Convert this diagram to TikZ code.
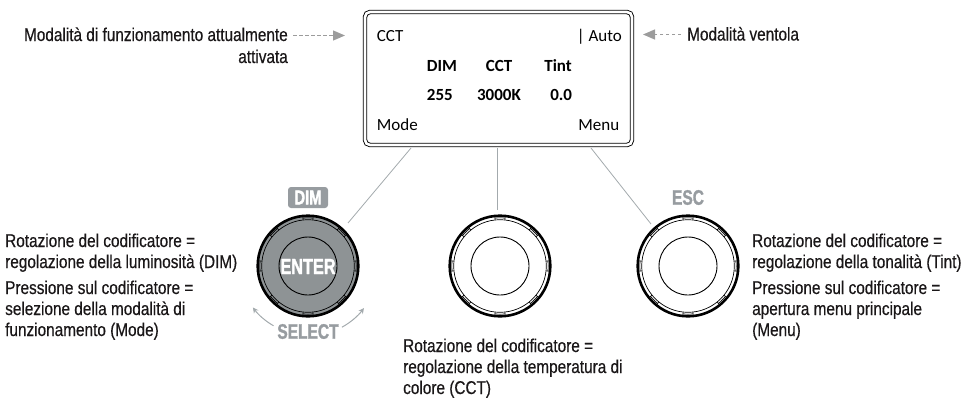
\documentclass[tikz,border=0pt]{standalone}
\usepackage{fontspec}
\setmainfont{Liberation Sans}[FakeStretch=0.83,FakeBold=0.5]
\newfontfamily\dispfont{Carlito}
\newfontfamily\condfont{Liberation Sans Bold}[FakeStretch=0.74,FakeBold=1.4]
\usetikzlibrary{arrows.meta,calc}
\definecolor{txtcol}{HTML}{1A1718}
\definecolor{arrgray}{HTML}{9C9C9C}
\definecolor{linegray}{HTML}{A3AAAD}
\definecolor{knobgray}{HTML}{8E9395}
\definecolor{badgegray}{HTML}{979CA0}
\newcommand\drawknob[2]{%
  \fill[#2] (#1) circle[radius=51];
  \draw[line width=2.6] (#1) circle[radius=50.3];
  \draw[line width=0.7] (#1) circle[radius=46.3];
  \foreach \a in {0,45,...,315} {
    \draw[line width=0.6] ($(#1)+({\a-6}:46.3)$) -- ($(#1)+({\a-6}:50)$);
    \draw[line width=0.6] ($(#1)+({\a+6}:46.3)$) -- ($(#1)+({\a+6}:50)$);
    \draw[line width=0.6] ($(#1)+({\a-6}:48.2)$) arc[start angle={\a-6}, end angle={\a+6}, radius=48.2];
  }
  \draw[line width=0.9] (#1) circle[radius=29];
}
\begin{document}
\begin{tikzpicture}[x=1pt,y=-1pt,
  lbl/.style={font=\fontsize{18.5}{21}\selectfont, text=txtcol, inner sep=0},
  disp/.style={font=\dispfont\fontsize{17}{20}\selectfont, inner sep=0},
  dispb/.style={font=\dispfont\bfseries\fontsize{17}{20}\selectfont, inner sep=0},
  conn/.style={draw=linegray, line width=0.8},
  dasharr/.style={draw=arrgray, line width=1.2, dash pattern=on 3.5pt off 2.5pt,
    -{Triangle[length=12pt,width=10pt,fill=arrgray]}},
  selarr/.style={draw=linegray, line width=1, -{Stealth[length=5.5pt,width=5.5pt]}},
  graylbl/.style={font=\condfont\fontsize{21}{21}\selectfont, text=badgegray, inner sep=0},
  badge/.style={fill=badgegray, rounded corners=3pt, minimum width=40pt, minimum height=21pt,
    inner sep=0, text=white, font=\condfont\fontsize{20}{20}\selectfont}]
\useasboundingbox (0,0) rectangle (965,399);

% display
\node[draw, double, double distance=2.6pt, line width=0.9pt, rounded corners=5pt,
  minimum width=267pt, minimum height=133pt, inner sep=0] (screen) at (498.5,78.5) {};
\node[disp, anchor=base west] (sMode1) at (376.7,41.7) {CCT};
\node[disp, anchor=base east] (sFan) at (622,41.7) {| Auto};
\node[dispb, anchor=base west] (hDim) at (426.7,71.7) {DIM};
\node[dispb, anchor=base] (hCct) at (499,71.7) {CCT};
\node[dispb, anchor=base east] (hTint) at (572,71.7) {Tint};
\node[dispb, anchor=base west] (vDim) at (426.7,100) {255};
\node[dispb, anchor=base] (vCct) at (499,100) {3000K};
\node[dispb, anchor=base east] (vTint) at (572.3,100) {0.0};
\node[disp, anchor=base west] (sMode) at (376.7,130) {Mode};
\node[disp, anchor=base east] (sMenu) at (619.5,130) {Menu};

% knobs
\coordinate (k1) at (308,266);
\coordinate (k2) at (500,266);
\coordinate (k3) at (688,266);
\drawknob{k1}{knobgray}
\drawknob{k2}{white}
\drawknob{k3}{white}
\node[font=\condfont\fontsize{22}{22}\selectfont, text=white, inner sep=0] (enter) at (308,266.5) {ENTER};

% connectors
\coordinate (c1a) at (411,148); \coordinate (c1b) at (348,223);
\coordinate (c2a) at (497,148); \coordinate (c2b) at (497,210);
\coordinate (c3a) at (591,148); \coordinate (c3b) at (651,224);
\draw[conn] (c1a) -- (c1b);
\draw[conn] (c2a) -- (c2b);
\draw[conn] (c3a) -- (c3b);

% gray labels
\node[badge] (dimbadge) at (308,197.5) {DIM};
\node[graylbl] (esc) at (688,197.5) {ESC};
\node[graylbl] (select) at (308,331.5) {SELECT};
\draw[selarr] ($(k1)+(120:69)$) arc[start angle=120, end angle=143, radius=69];
\draw[selarr] ($(k1)+(61:70)$) arc[start angle=61, end angle=37, radius=70];

% top annotations
\node[lbl, anchor=base east] (ml1) at (288,41) {Modalità di funzionamento attualmente};
\node[lbl, anchor=base east] (ml2) at (288,63) {attivata};
\coordinate (a1s) at (293,35.5); \coordinate (a1e) at (345,35.5);
\draw[dasharr] (a1s) -- (a1e);
\node[lbl, anchor=base west] (fan) at (687,40.5) {Modalità ventola};
\coordinate (a2s) at (681,34.5); \coordinate (a2e) at (643,34.5);
\draw[dasharr] (a2s) -- (a2e);

% left block
\node[lbl, anchor=base west] (L1) at (5,247) {Rotazione del codificatore =};
\node[lbl, anchor=base west] (L2) at (5,268) {regolazione della luminosità (DIM)};
\node[lbl, anchor=base west] (L3) at (5,294) {Pressione sul codificatore =};
\node[lbl, anchor=base west] (L4) at (5,315) {selezione della modalità di};
\node[lbl, anchor=base west] (L5) at (5,336) {funzionamento (Mode)};

% middle block
\node[lbl, anchor=base west] (M1) at (403,352) {Rotazione del codificatore =};
\node[lbl, anchor=base west] (M2) at (403,373) {regolazione della temperatura di};
\node[lbl, anchor=base west] (M3) at (403,394) {colore (CCT)};

% right block
\node[lbl, anchor=base west] (R1) at (752,247) {Rotazione del codificatore =};
\node[lbl, anchor=base west] (R2) at (752,268) {regolazione della tonalità (Tint)};
\node[lbl, anchor=base west] (R3) at (752,294) {Pressione sul codificatore =};
\node[lbl, anchor=base west] (R4) at (752,315) {apertura menu principale};
\node[lbl, anchor=base west] (R5) at (752,336) {(Menu)};
\end{tikzpicture}
\end{document}
